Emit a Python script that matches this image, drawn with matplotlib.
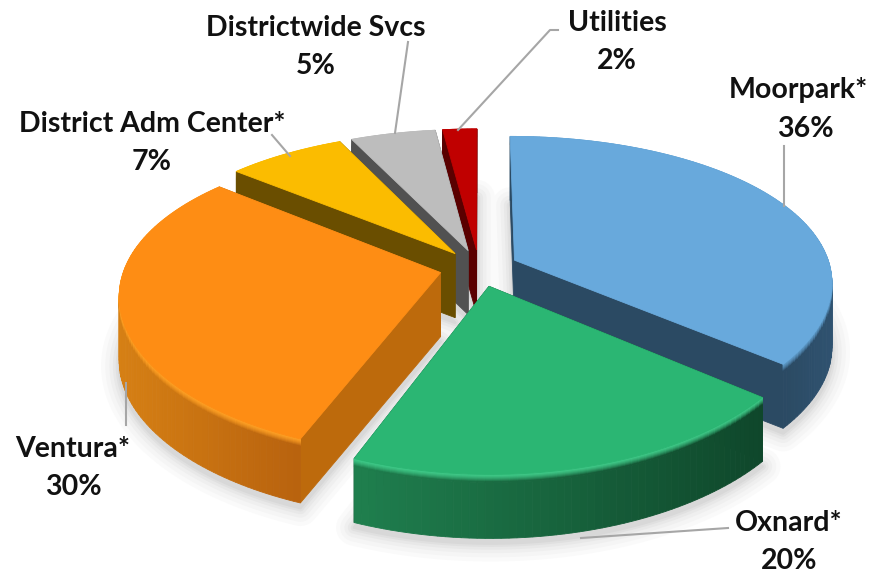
import numpy as np
from matplotlib import pyplot as plt
from matplotlib.colors import to_rgb

# Data
labels = ['Moorpark*', 'Oxnard*', 'Ventura*', 'District Adm Center*', 'Districtwide Svcs', 'Utilities']
values = [36, 20, 30, 7, 5, 2]

# Colours
top_colors = ['#68a9dc', '#2bb673', '#fe8d14', '#fbbc00', '#bdbdbd', '#c00000']
rim_colors = ['#5f9ccb', '#3fca88', '#ffa024', '#fbbc00', '#bdbdbd', '#c00000']
arc_left = ['#2b4a63', '#1f7f4e', '#d68014', '#6a4e00', '#515151', '#5a0000']
arc_right = ['#2f5270', '#0f472b', '#b8620e', '#6a4e00', '#515151', '#5a0000']
side_colors = ['#2b4a63', '#0f472b', '#bd6a0c', '#6a4e00', '#515151', '#5a0000']

# Label layout
label_pos = [(798, 90), (789, 523), (73, 449), (152, 124), (316, 28), (617, 23)]
pct_pos = [(805, 129), (789, 561), (73, 487), (152, 162), (316, 66), (617, 61)]
leaders = [
    [(784, 146), (784, 206)],
    [(581, 538), (728, 528)],
    [(126, 383), (126, 425)],
    [(272, 135), (290, 156)],
    [(408, 42), (395, 133)],
    [(558, 30), (550, 30), (458, 130)],
]

# Projection of the pie
cx, cy = 479, 268
R, H = 316, 148
kx, ky = 0.14, 0.175
explode = 0.125
depth = 64
bevel = 8


def project(u, v):
    return cx + R * u / (1 + kx * v), cy - H * v / (1 + ky * v)


def mix(a, b, t):
    a, b = np.array(to_rgb(a)), np.array(to_rgb(b))
    return tuple(a + (b - a) * t)


def quad(xa, ya, xb, yb, y0, y1, color, z):
    ax.fill([xa, xb, xb, xa], [ya + y0, yb + y0, yb + y1, ya + y1],
            color=color, lw=0.6, zorder=z)


fig = plt.figure(figsize=(8.81, 5.73), dpi=100)
ax = fig.add_axes([0, 0, 1, 1])
ax.set_xlim(0, 881)
ax.set_ylim(573, 0)
ax.axis('off')

edges = np.cumsum([0] + values) / sum(values) * 2 * np.pi
mids = (edges[:-1] + edges[1:]) / 2
order = np.argsort(-np.cos(mids))

outlines = {}
for i in range(len(values)):
    th = np.linspace(edges[i], edges[i + 1], max(8, int(values[i] * 3)))
    ou, ov = explode * np.sin(mids[i]), explode * np.cos(mids[i])
    ax_x, ax_y = project(ou + np.sin(th), ov + np.cos(th))
    ap_x, ap_y = project(ou, ov)
    outlines[i] = (th, ax_x, ax_y, ap_x, ap_y)

# Soft shadow under the slices
for lw, grey in zip([26, 20, 14, 9, 5, 2], ['#fafafa', '#f5f5f5', '#efefef', '#e8e8e8', '#e0e0e0', '#d8d8d8']):
    for i in range(len(values)):
        th, xs, ys, ap_x, ap_y = outlines[i]
        ax.fill(np.r_[ap_x, xs], np.r_[ap_y, ys] + depth + 5, facecolor=grey,
                edgecolor=grey, lw=lw, joinstyle='round', zorder=1)

z = 2
for i in order:
    th, xs, ys, ap_x, ap_y = outlines[i]
    walls = []
    # radial walls
    for j in (0, -1):
        walls.append((np.cos(th[j]) / 2, 'side', j))
    # outer wall, one strip per step
    for j in range(len(th) - 1):
        walls.append(((np.cos(th[j]) + np.cos(th[j + 1])) / 2, 'arc', j))
    walls.sort(key=lambda w: -w[0])

    front = xs[np.cos(th) < 0.1]
    x0, x1 = (front.min(), front.max()) if len(front) > 1 else (xs.min(), xs.max())

    for _, kind, j in walls:
        z += 0.001
        if kind == 'side':
            quad(ap_x, ap_y, xs[j], ys[j], 0, depth, side_colors[i], z)
        else:
            t = np.clip(((xs[j] + xs[j + 1]) / 2 - x0) / max(x1 - x0, 1), 0, 1)
            wall = mix(arc_left[i], arc_right[i], t)
            quad(xs[j], ys[j], xs[j + 1], ys[j + 1], bevel, depth, wall, z)
            for b in range(bevel):
                c = mix(rim_colors[i], wall, (b / (bevel - 1)) ** 1.5)
                quad(xs[j], ys[j], xs[j + 1], ys[j + 1], b, b + 1, c, z)
    z += 0.01
    ax.fill(np.r_[ap_x, xs], np.r_[ap_y, ys], color=top_colors[i], lw=0.6, zorder=z)
    z += 0.01

# Leader lines
for pts in leaders:
    p = np.array(pts)
    ax.plot(p[:, 0], p[:, 1], color='#a6a6a6', lw=1.5, zorder=50)

# Labels
for i in range(len(values)):
    ax.text(label_pos[i][0], label_pos[i][1], labels[i], ha='center', va='center',
            family='Lato', weight='bold', fontsize=20.5, color='#111111', zorder=60)
    ax.text(pct_pos[i][0], pct_pos[i][1], '%d%%' % values[i], ha='center', va='center',
            family='Lato', weight='bold', fontsize=20.5, color='#111111', zorder=60)

fig.savefig('out.png', dpi=100)
